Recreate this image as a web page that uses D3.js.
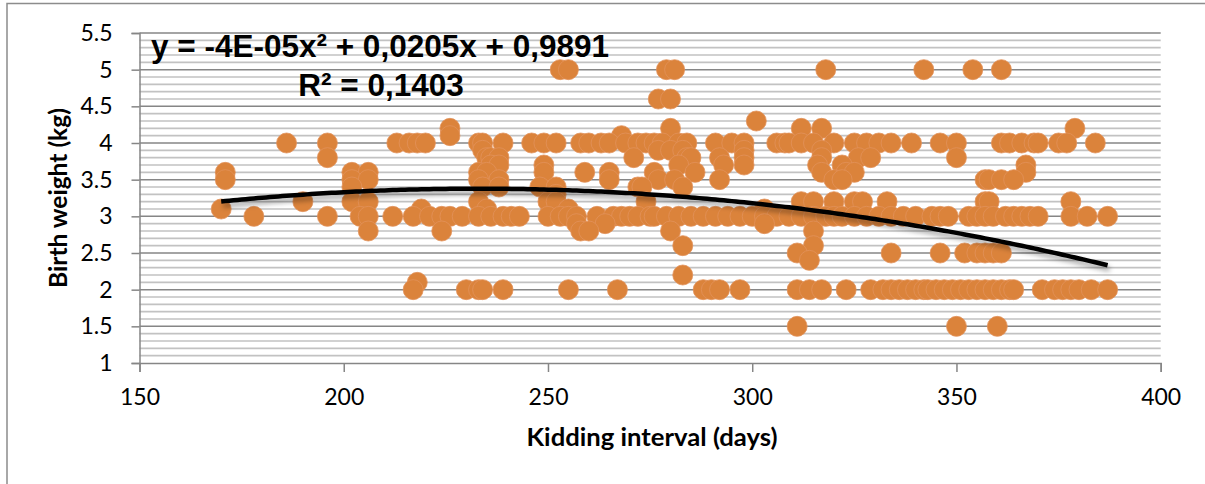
<!DOCTYPE html>
<html>
<head>
<meta charset="utf-8">
<script src="https://cdn.jsdelivr.net/npm/d3@7"></script>
<style>
  html, body { margin: 0; padding: 0; background: #fff; }
  svg { display: block; }
</style>
</head>
<body>
<svg id="chart" width="1205" height="484"></svg>
<script>
// ---------------- DATA ----------------
const xTickValues = [150, 200, 250, 300, 350, 400];
const yTickValues = [1, 1.5, 2, 2.5, 3, 3.5, 4, 4.5, 5, 5.5];
const xTitle = "Kidding interval (days)";
const yTitle = "Birth weight (kg)";
const equationLine1 = "y = -4E-05x² + 0,0205x + 0,9891";
const equationLine2 = "R² = 0,1403";
// trendline coefficients (a, b, c) of y = a x² + b x + c, and its x range
const trendCoefficients = [-4.4e-5, 0.0205, 0.9891];
const trendRange = [170, 387];

// birth weight levels and the kidding intervals (days) observed at each level
const weightLevels = [5.0, 4.6, 4.3, 4.2, 4.1, 4.0, 3.9, 3.8, 3.7, 3.6, 3.5, 3.4, 3.3, 3.2, 3.1, 3.0, 2.9, 2.8, 2.6, 2.5, 2.4, 2.2, 2.1, 2.0, 1.5];
const daysAtLevel = [
  [253, 255, 279, 281, 318, 342, 354, 361],
  [277, 280],
  [301],
  [226, 280, 312, 317, 379],
  [226, 268],
  [186, 196, 213, 216, 218, 220, 233, 234, 239, 246, 249, 252, 258, 260, 263, 265, 269, 272, 274, 276, 278, 282, 284, 291, 295, 298, 306, 308, 309, 312, 315, 320, 325, 328, 331, 334, 339, 346, 350, 361, 363, 366, 369, 370, 375, 377, 384],
  [234, 277, 280, 283, 298, 317],
  [196, 235, 236, 238, 271, 284, 285, 292, 298, 317, 326, 329, 350],
  [236, 238, 249, 282, 293, 298, 316, 322, 367],
  [171, 202, 206, 233, 235, 249, 259, 265, 276, 286, 317, 323, 325, 367],
  [171, 202, 206, 233, 238, 265, 277, 281, 292, 320, 322, 357, 358, 361, 364],
  [202, 234, 238, 248, 252, 272, 273, 283],
  [252],
  [190, 202, 206, 233, 250, 252, 274, 312, 315, 320, 325, 327, 333, 357, 358, 378],
  [170, 219, 235, 255, 303],
  [178, 196, 204, 206, 212, 217, 221, 224, 226, 229, 233, 236, 239, 241, 243, 250, 253, 255, 257, 262, 266, 268, 270, 272, 275, 276, 279, 282, 285, 288, 291, 294, 297, 300, 303, 306, 309, 312, 315, 318, 320, 322, 325, 328, 331, 334, 337, 340, 344, 346, 348, 353, 355, 357, 359, 362, 364, 366, 368, 370, 378, 382, 387],
  [257, 264, 303],
  [206, 224, 258, 260, 280, 315],
  [283, 315],
  [311, 334, 346, 352, 355, 357, 359, 361],
  [314],
  [283],
  [218],
  [217, 230, 233, 234, 239, 255, 267, 288, 290, 292, 297, 311, 314, 317, 323, 329, 332, 334, 336, 338, 340, 342, 343, 345, 347, 349, 351, 353, 355, 357, 359, 361, 363, 364, 371, 374, 376, 378, 380, 383, 387],
  [311, 350, 360]
];

// ---------------- CHART ----------------
const points = [];
weightLevels.forEach((w, i) => daysAtLevel[i].forEach(d => points.push({ x: d, y: w })));

const svg = d3.select("#chart");
const plot = { left: 139.5, right: 1160.7, top: 33, bottom: 363 };
const x = d3.scaleLinear().domain([150, 400]).range([plot.left, plot.right]);
const y = d3.scaleLinear().domain([1, 5.5]).range([plot.bottom, plot.top]);

const tickFont = "Lato, 'Open Sans', sans-serif";
const axisGray = "#868686";

// outer chart border
svg.append("rect")
  .attr("x", 7).attr("y", 3.5).attr("width", 1400).attr("height", 600)
  .attr("fill", "none").attr("stroke", "#8c8c8c").attr("stroke-width", 1.5);

// defs: drop shadow for trendline
const defs = svg.append("defs");
const f = defs.append("filter").attr("id", "shadow")
  .attr("x", "-5%").attr("y", "-50%").attr("width", "110%").attr("height", "300%");
f.append("feDropShadow").attr("dx", 2).attr("dy", 4).attr("stdDeviation", 2.5)
  .attr("flood-color", "#000").attr("flood-opacity", 0.35);

// minor gridlines
const minorVals = d3.range(10, 56).map(i => i / 10).filter(v => !yTickValues.some(t => Math.abs(t - v) < 1e-9));
svg.append("g").selectAll("line").data(minorVals).join("line")
  .attr("x1", plot.left).attr("x2", plot.right)
  .attr("y1", d => y(d)).attr("y2", d => y(d))
  .attr("stroke", "#c2c2c2").attr("stroke-width", 1.6);

// major gridlines
svg.append("g").selectAll("line").data(yTickValues.filter(v => v > 1)).join("line")
  .attr("x1", plot.left).attr("x2", plot.right)
  .attr("y1", d => y(d)).attr("y2", d => y(d))
  .attr("stroke", axisGray).attr("stroke-width", 1.5);

// axes
const yAxis = svg.append("g").attr("transform", `translate(${plot.left},0)`)
  .call(d3.axisLeft(y).tickValues(yTickValues).tickSize(8).tickPadding(19).tickFormat(d => String(d)));
const xAxis = svg.append("g").attr("transform", `translate(0,${plot.bottom})`)
  .call(d3.axisBottom(x).tickValues(xTickValues).tickSize(9).tickPadding(17).tickFormat(d => String(d)));
[xAxis, yAxis].forEach(g => {
  g.select(".domain").attr("stroke", axisGray).attr("stroke-width", 1.5);
  g.selectAll(".tick line").attr("stroke", axisGray).attr("stroke-width", 1.5);
  g.selectAll(".tick text").attr("fill", "#000").style("font-family", tickFont).style("font-size", "23px");
});

// points
svg.append("g").selectAll("circle").data(points).join("circle")
  .attr("cx", d => x(d.x)).attr("cy", d => y(d.y)).attr("r", 10)
  .attr("fill", "#db833b").attr("stroke", "#e2925a").attr("stroke-width", 0.8);

// trendline
const trendXs = d3.range(trendRange[0], trendRange[1] + 0.01, 1);
const [a, b, c] = trendCoefficients;
svg.append("path")
  .datum(trendXs.map(v => [v, a * v * v + b * v + c]))
  .attr("d", d3.line().x(d => x(d[0])).y(d => y(d[1])))
  .attr("fill", "none").attr("stroke", "#000").attr("stroke-width", 4.5)
  .attr("stroke-linecap", "butt")
  .attr("filter", "url(#shadow)");

// axis titles
function fitWidth(sel, target) {
  const w = sel.node().getComputedTextLength();
  const fs = parseFloat(sel.style("font-size"));
  sel.style("font-size", (fs * target / w) + "px");
}
const xt = svg.append("text").attr("x", 652).attr("y", 446).attr("text-anchor", "middle")
  .style("font-family", tickFont).style("font-weight", "bold").style("font-size", "24px")
  .text(xTitle);
fitWidth(xt, 251);
const yt = svg.append("text").attr("transform", "translate(66.5,198) rotate(-90)").attr("text-anchor", "middle")
  .style("font-family", tickFont).style("font-weight", "bold").style("font-size", "24px")
  .text(yTitle);
fitWidth(yt, 180);

// equation label
const eqFont = "'Liberation Sans', Arial, sans-serif";
svg.append("text").attr("x", 380).attr("y", 57).attr("text-anchor", "middle")
  .style("font-family", eqFont).style("font-weight", "bold").style("font-size", "31.5px")
  .text(equationLine1);
svg.append("text").attr("x", 381).attr("y", 95.5).attr("text-anchor", "middle")
  .style("font-family", eqFont).style("font-weight", "bold").style("font-size", "31.5px")
  .text(equationLine2);
</script>
</body>
</html>
